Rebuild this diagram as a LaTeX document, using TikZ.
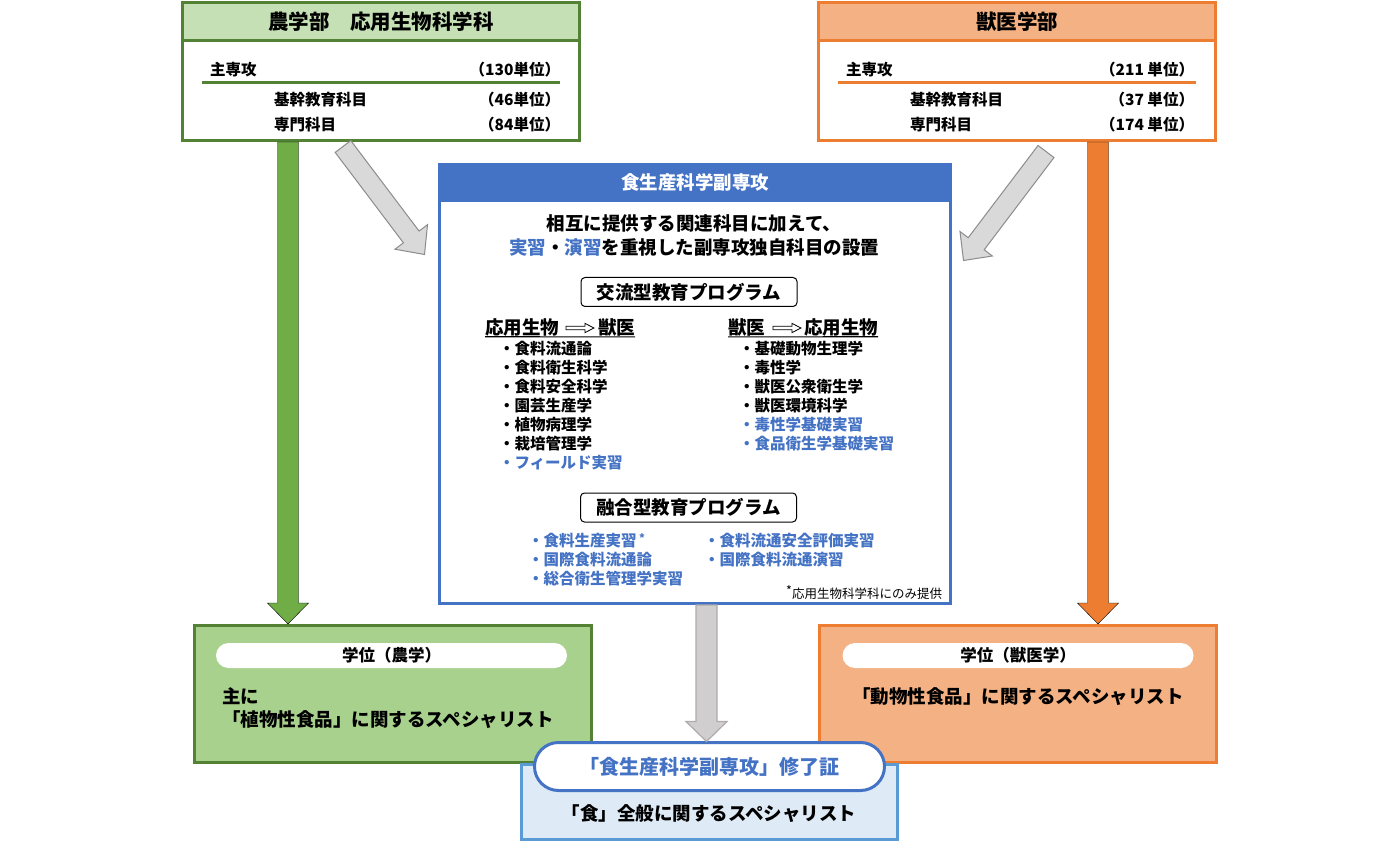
\documentclass[tikz,border=0pt]{standalone}
\usepackage{fontspec}
\setmainfont{Noto Sans CJK JP}
\usetikzlibrary{calc}

\definecolor{agrline}{HTML}{548235}
\definecolor{agrhead}{HTML}{C5E0B4}
\definecolor{agrfill}{HTML}{A9D18E}
\definecolor{agrarrow}{HTML}{70AD47}
\definecolor{vetline}{HTML}{ED7D31}
\definecolor{vethead}{HTML}{F4B183}
\definecolor{minblue}{HTML}{4472C4}
\definecolor{certfill}{HTML}{DEEBF7}
\definecolor{certline}{HTML}{5B9BD5}
\definecolor{graybody}{HTML}{D9D9D9}
\definecolor{grayedge}{HTML}{8C8C8C}
\definecolor{downbody}{HTML}{D0CECE}
\definecolor{downedge}{HTML}{AFABAB}

% block arrow: [style]{from}{to}{half shaft}{half head}{head length}
\newcommand{\blockarrow}[6][]{%
  \coordinate (ba-h) at ($(#3)!#6!(#2)$);
  \draw[#1] ($(#2)!#4!90:(#3)$) -- ($(ba-h)!#4!90:(#3)$) -- ($(ba-h)!#5!90:(#3)$) -- (#3)
    -- ($(ba-h)!#5!-90:(#3)$) -- ($(ba-h)!#4!-90:(#3)$) -- ($(#2)!#4!-90:(#3)$) -- cycle;}

\begin{document}
\begin{tikzpicture}[x=1pt, y=-1pt,
    every node/.style={inner sep=0pt, outer sep=0pt},
    fs/.style={font=\fontsize{#1}{#1}\selectfont\bfseries},
    fsr/.style={font=\fontsize{#1}{#1}\selectfont},
    facbox/.style={line width=3pt, fill=white, minimum width=397pt, minimum height=138pt},
    headbox/.style={line width=3pt, minimum width=397pt, minimum height=38pt, anchor=north, fs=20.5},
    degbox/.style={line width=3pt, minimum width=397pt, minimum height=137pt},
    pill/.style={fill=white, rounded corners=12.5pt, minimum width=351pt, minimum height=25pt, fs=16.5},
    progbox/.style={draw=black, line width=1pt, rounded corners=4pt, fill=white,
      minimum width=216pt, minimum height=29pt, fs=18.5},
    hollow/.style={draw=black, fill=white, line width=0.8pt},
    grayarrow/.style={fill=graybody, draw=grayedge, line width=1pt}]

  \fill[white] (0,0) rectangle (1400,842);

  % faculty of agriculture
  \node[facbox, draw=agrline] (agrtop) at (381,71.5) {};
  \node[headbox, draw=agrline, fill=agrhead] (agrhead) at (agrtop.north) {農学部　応用生物科学科};
  \node[anchor=west, fs=15.5] (agrmain) at (210,70) {主専攻};
  \node[anchor=east, fs=15.5] (agrmaincr) at (560,70) {（130単位）};
  \draw[agrline, line width=3pt] (202,83) -- (560,83);
  \node[anchor=west, fs=15.5] (agrbasic) at (274,100) {基幹教育科目};
  \node[anchor=east, fs=15.5] (agrbasiccr) at (560,100) {（46単位）};
  \node[anchor=west, fs=15.5] (agrspec) at (274,125) {専門科目};
  \node[anchor=east, fs=15.5] (agrspeccr) at (560,125) {（84単位）};

  % faculty of veterinary medicine
  \node[facbox, draw=vetline] (vettop) at (1017,71.5) {};
  \node[headbox, draw=vetline, fill=vethead] (vethead) at (vettop.north) {獣医学部};
  \node[anchor=west, fs=15.5] (vetmain) at (846,70) {主専攻};
  \node[anchor=east, fs=15.5] (vetmaincr) at (1194,70) {（211 単位）};
  \draw[vetline, line width=3pt] (838,83) -- (1196,83);
  \node[anchor=west, fs=15.5] (vetbasic) at (910,100) {基幹教育科目};
  \node[anchor=east, fs=15.5] (vetbasiccr) at (1194,100) {（37 単位）};
  \node[anchor=west, fs=15.5] (vetspec) at (910,125) {専門科目};
  \node[anchor=east, fs=15.5] (vetspeccr) at (1194,125) {（174 単位）};

  % minor programme
  \node[draw=minblue, line width=3pt, fill=white, minimum width=511pt, minimum height=439pt] (minor) at (695,384) {};
  \node[anchor=north, fill=minblue, draw=minblue, line width=3pt, minimum width=511pt,
    minimum height=36pt, text=white, fs=18.5] (minorhead) at (minor.north) {食生産科学副専攻};
  \node[align=center, fs=18.5] (intro) at (694,236)
    {相互に提供する関連科目に加えて、\\[5.5pt]\textcolor{minblue}{実習}・\textcolor{minblue}{演習}を重視した副専攻独自科目の設置};

  \node[progbox] (exch) at (689,292) {交流型教育プログラム};

  \node[anchor=west, fs=18.5] (lhA) at (485,328) {応用生物};
  \coordinate (lhArr) at ([xshift=7pt]lhA.east);
  \coordinate (lhArrEnd) at ([xshift=35pt]lhA.east);
  \node[anchor=west, fs=18.5] (lhB) at ([xshift=39pt]lhA.east) {獣医};
  \blockarrow[hollow]{lhArr}{lhArrEnd}{1.8pt}{4.6pt}{9pt}
  \draw[line width=1.2pt] (lhA.south west) -- (lhB.south east);

  \node[anchor=west, fs=18.5] (rhA) at (728,328) {獣医};
  \coordinate (rhArr) at ([xshift=8pt]rhA.east);
  \coordinate (rhArrEnd) at ([xshift=36pt]rhA.east);
  \node[anchor=west, fs=18.5] (rhB) at ([xshift=39pt]rhA.east) {応用生物};
  \blockarrow[hollow]{rhArr}{rhArrEnd}{1.8pt}{4.6pt}{9pt}
  \draw[line width=1.2pt] (rhA.south west) -- (rhB.south east);

  \foreach \subj/\col [count=\i] in {食料流通論/black, 食料衛生科学/black, 食料安全科学/black,
      園芸生産学/black, 植物病理学/black, 栽培管理学/black, フィールド実習/minblue}
    \node[anchor=west, fs=15.5, text=\col] (agritem\i) at (499,330+19*\i) {・\subj};
  \foreach \subj/\col [count=\i] in {基礎動物生理学/black, 毒性学/black, 獣医公衆衛生学/black,
      獣医環境科学/black, 毒性学基礎実習/minblue, 食品衛生学基礎実習/minblue}
    \node[anchor=west, fs=15.5, text=\col] (vetitem\i) at (739,330+19*\i) {・\subj};

  \node[progbox] (fusion) at (688.5,507.5) {融合型教育プログラム};
  \foreach \subj [count=\i] in {{食料生産実習\,\raisebox{4pt}{\fontsize{11}{11}\selectfont *}},
      国際食料流通論, 総合衛生管理学実習}
    \node[anchor=west, fs=15.5, text=minblue] (fusl\i) at (528,522+19*\i) {・\subj};
  \foreach \subj [count=\i] in {食料流通安全評価実習, 国際食料流通演習}
    \node[anchor=west, fs=15.5, text=minblue] (fusr\i) at (704,522+19*\i) {・\subj};
  \node[anchor=east, fsr=12.5] (note) at (942,593) {\raisebox{3pt}{*}応用生物科学科にのみ提供};

  % degrees
  \node[degbox, draw=agrline, fill=agrfill] (agrdeg) at (392.5,694) {};
  \node[pill] (agrdegT) at (391.5,655.5) {学位（農学）};
  \node[anchor=west, align=left, fs=18.5] (agrspecialist) at (222,708.5)
    {主に\\[4.5pt]「植物性食品」に関するスペシャリスト};

  \node[degbox, draw=vetline, fill=vethead] (vetdeg) at (1018,694) {};
  \node[pill] (vetdegT) at (1018,655.5) {学位（獣医学）};
  \node[fs=18.5] (vetspecialist) at (1018,697) {「動物性食品」に関するスペシャリスト};

  \node[draw=certline, fill=certfill, line width=3pt, minimum width=376pt, minimum height=75pt] (certbox) at (709.5,801.5) {};
  \node[fs=18.5] (certall) at (709,814) {「食」全般に関するスペシャリスト};

  % arrows
  \coordinate (gA) at ([xshift=-93pt,yshift=-1.5pt]agrtop.south);
  \coordinate (gB) at ([yshift=1.5pt]gA |- agrdeg.north);
  \blockarrow[fill=agrarrow]{gA}{gB}{10.5pt}{20.5pt}{21pt}
  \coordinate (oA) at ([xshift=81pt,yshift=-1.5pt]vettop.south);
  \coordinate (oB) at ([yshift=1.5pt]oA |- vetdeg.north);
  \blockarrow[fill=vetline]{oA}{oB}{10.5pt}{20.5pt}{21pt}

  \coordinate (lA) at ([xshift=-38pt,yshift=-6pt]agrtop.south);
  \coordinate (lB) at ([xshift=-15pt,yshift=-90pt]minor.north west);
  \blockarrow[grayarrow]{lA}{lB}{9.8pt}{20.4pt}{22pt}
  \coordinate (rA) at ([xshift=29pt,yshift=-11pt]vettop.south);
  \coordinate (rB) at ([xshift=13pt,yshift=-96pt]minor.north east);
  \blockarrow[grayarrow]{rA}{rB}{10pt}{20.3pt}{21pt}

  \node[draw=minblue, line width=3pt, fill=white, rounded corners=24pt, minimum width=350pt,
    minimum height=48pt, text=minblue, fs=20] (cert) at (709.5,766.5) {「食生産科学副専攻」修了証};
  \coordinate (cA) at ([xshift=11.5pt,yshift=-1.5pt]minor.south);
  \coordinate (cB) at ([yshift=1pt]cA |- cert.north);
  \blockarrow[fill=downbody, draw=downedge, line width=1.2pt]{cA}{cB}{10.5pt}{20.5pt}{20pt}
\end{tikzpicture}
\end{document}
